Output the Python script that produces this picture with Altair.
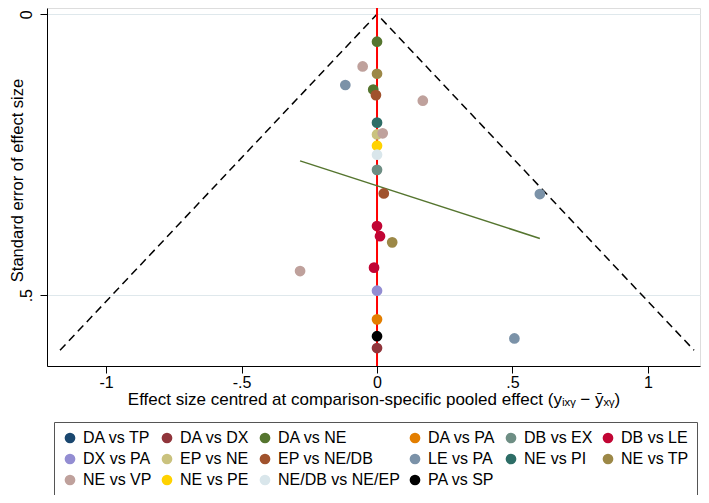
import altair as alt
import pandas as pd

comparisons = ["DA vs TP", "DA vs DX", "DA vs NE", "DA vs PA", "DB vs EX", "DB vs LE",
               "DX vs PA", "EP vs NE", "EP vs NE/DB", "LE vs PA", "NE vs PI", "NE vs TP",
               "NE vs VP", "NE vs PE", "NE/DB vs NE/EP", "PA vs SP"]
colors = ["#1a476f", "#90353b", "#55752f", "#e37e00", "#6e8e84", "#c10534",
          "#938dd2", "#cac27e", "#a0522d", "#7b92a8", "#2d6d66", "#9c8847",
          "#bfa19c", "#ffd200", "#d9e6eb", "#000000"]

pt_comp = ["DA vs NE", "NE vs VP", "NE vs TP", "LE vs PA", "DA vs NE", "EP vs NE/DB",
           "NE vs VP", "NE vs PI", "EP vs NE", "NE vs VP", "NE vs PE", "NE/DB vs NE/EP",
           "DB vs EX", "EP vs NE/DB", "LE vs PA", "DB vs LE", "DB vs LE", "NE vs TP",
           "DB vs LE", "NE vs VP", "DX vs PA", "DA vs PA", "PA vs SP", "LE vs PA", "DA vs DX"]
pt_x = [0.0, -0.053, 0.0, -0.117, -0.014, -0.004,
        0.169, 0.0, 0.0, 0.021, 0.0, 0.0,
        0.0, 0.025, 0.601, 0.0, 0.011, 0.056,
        -0.011, -0.284, 0.0, 0.0, 0.0, 0.507, 0.0]
pt_se = [0.049, 0.093, 0.106, 0.126, 0.134, 0.144,
         0.154, 0.193, 0.214, 0.212, 0.234, 0.250,
         0.277, 0.319, 0.320, 0.377, 0.395, 0.406,
         0.451, 0.457, 0.492, 0.543, 0.573, 0.577, 0.594]

funnel_x = [-1.17, 0.0, 1.17]
funnel_se = [0.598, 0.0, 0.598]

reg_x = [-0.284, 0.601]
reg_se = [0.261, 0.399]

x_ticks = [-1, -0.5, 0, 0.5, 1]
y_ticks = [0, 0.5]

points = pd.DataFrame({"comparison": pt_comp, "x": pt_x, "se": pt_se})
funnel = pd.DataFrame({"x": funnel_x, "se": funnel_se, "o": [0, 1, 2]})
reg = pd.DataFrame({"x": reg_x, "se": reg_se})
zero = pd.DataFrame({"x": [0.0]})

xscale = alt.Scale(domain=[-1.218, 1.192], nice=False, zero=False)
yscale = alt.Scale(domain=[-0.011, 0.626], nice=False, zero=False, reverse=True)

lab = "replace('' + datum.value, '0.', '.')"

xaxis = alt.Axis(values=x_ticks, labelExpr=lab, grid=False,
                 title="Effect size centred at comparison-specific pooled effect (yᵢₓᵧ − ȳₓᵧ)",
                 labelFontSize=16, titleFontSize=17, titleFontWeight="normal",
                 labelColor="#000", titleColor="#000", domainColor="#000", tickColor="#000",
                 tickSize=7, labelPadding=1, titlePadding=1)
yaxis = alt.Axis(values=y_ticks, labelExpr=lab, grid=True, gridColor="#dfe8ec",
                 title="Standard error of effect size", labelAngle=-90,
                 labelAlign="center", labelBaseline="bottom",
                 labelFontSize=16, titleFontSize=16.5, titleFontWeight="normal",
                 labelColor="#000", titleColor="#000", domainColor="#000", tickColor="#000",
                 tickSize=7, labelPadding=6, titleX=-22, titleY=172)

base_funnel = alt.Chart(funnel).mark_line(color="#000", strokeDash=[8, 5], strokeWidth=1.5).encode(
    x=alt.X("x:Q", scale=xscale, axis=xaxis),
    y=alt.Y("se:Q", scale=yscale, axis=yaxis),
    order="o:O",
)

rule = alt.Chart(zero).mark_rule(color="#ff0000", strokeWidth=2).encode(x=alt.X("x:Q", scale=xscale))

regl = alt.Chart(reg).mark_line(color="#55752f", strokeWidth=1.5).encode(
    x=alt.X("x:Q", scale=xscale), y=alt.Y("se:Q", scale=yscale))

pts = alt.Chart(points).mark_circle(size=115, opacity=1).encode(
    x=alt.X("x:Q", scale=xscale),
    y=alt.Y("se:Q", scale=yscale),
    color=alt.Color("comparison:N",
                    scale=alt.Scale(domain=comparisons, range=colors),
                    legend=alt.Legend(orient="none", legendX=7, legendY=414, columns=6,
                                      direction="horizontal",
                                      title=None, symbolType="circle", symbolSize=115,
                                      labelFontSize=16, labelColor="#000", labelOffset=5,
                                      strokeColor="#555", padding=8,
                                      rowPadding=5, columnPadding=7,
                                      symbolStrokeWidth=0)),
)

chart = alt.layer(base_funnel, rule, regl, pts).properties(
    width=653, height=358,
    padding={"left": 39, "top": 0, "right": 1, "bottom": 129},
    autosize=alt.AutoSizeParams(type="none"),
).configure_view(stroke=None).configure(font="Liberation Sans")

chart.save("out.html", embed_options={"renderer": "svg", "actions": False})
